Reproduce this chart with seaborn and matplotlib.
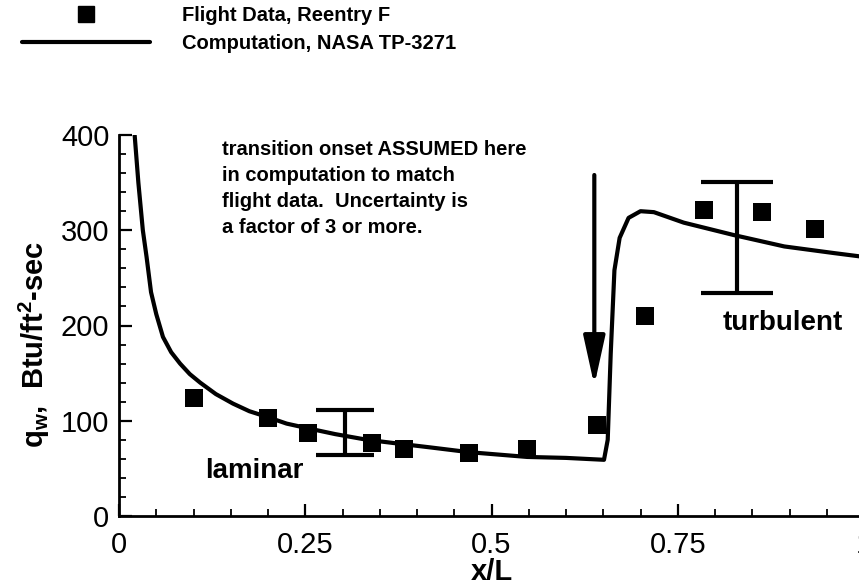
import numpy as np
import pandas as pd
import matplotlib
matplotlib.use("Agg")
import matplotlib.pyplot as plt
from matplotlib.lines import Line2D
from matplotlib.legend_handler import HandlerLine2D
from matplotlib.ticker import MultipleLocator
import seaborn as sns

# Flight data, Reentry F
flight_x = [0.100, 0.200, 0.254, 0.339, 0.383, 0.470, 0.548, 0.641, 0.706, 0.785, 0.863, 0.934]
flight_q = [124, 103, 87, 77, 70, 66, 70, 96, 210, 321, 319, 301]

# Computation, NASA TP-3271
comp_x = [0.021, 0.026, 0.032, 0.037, 0.043, 0.050, 0.059, 0.070, 0.082, 0.095,
          0.109, 0.130, 0.153, 0.175, 0.199, 0.225, 0.254, 0.290, 0.333, 0.375,
          0.418, 0.470, 0.548, 0.600, 0.651, 0.656, 0.660, 0.665, 0.672, 0.684,
          0.700, 0.718, 0.758, 0.825, 0.893, 0.960, 1.000]
comp_q = [400, 350, 300, 272, 235, 212, 188, 172, 160, 149,
          140, 128, 118, 110, 104, 97, 92, 86, 80, 76,
          72, 67, 62, 61, 59, 80, 170, 258, 292, 313,
          320, 319, 308, 295, 283, 276, 272]

# Uncertainty bands
unc_x = [0.304, 0.829]
unc_lo = [64, 234]
unc_hi = [111, 351]
unc_cap = [21, 26]

# Transition onset arrow (x, start, tip)
arrow_x = 0.638
arrow_from = 358
arrow_to = 137

x_ticks = [0, 0.25, 0.5, 0.75, 1]
x_ticklabels = ["0", "0.25", "0.5", "0.75", "1"]
y_ticks = [0, 100, 200, 300, 400]

sns.set_style("white")
plt.rcParams["font.family"] = ["Liberation Sans", "DejaVu Sans"]
plt.rcParams["mathtext.fontset"] = "custom"
plt.rcParams["mathtext.rm"] = "Liberation Sans"
plt.rcParams["mathtext.bf"] = "Liberation Sans:bold"
for key in ["text.color", "axes.labelcolor", "xtick.color", "ytick.color"]:
    plt.rcParams[key] = "black"

fig = plt.figure(figsize=(8.59, 5.86), dpi=100)
ax = fig.add_axes([119 / 859, 1 - 516 / 586, (864 - 119) / 859, (516 - 135) / 586])

flight = pd.DataFrame({"x": flight_x, "q": flight_q})
comp = pd.DataFrame({"x": comp_x, "q": comp_q})

sns.lineplot(data=comp, x="x", y="q", ax=ax, color="black", linewidth=3,
             sort=False, estimator=None)
sns.scatterplot(data=flight, x="x", y="q", ax=ax, marker="s", s=150,
                color="black", linewidth=0, zorder=4)

for xv, lo, hi, cap in zip(unc_x, unc_lo, unc_hi, unc_cap):
    mid = (lo + hi) / 2
    ax.errorbar([xv], [mid], yerr=[[mid - lo], [hi - mid]], fmt="none",
                ecolor="black", elinewidth=3, capsize=cap, capthick=3)

ax.annotate("", xy=(arrow_x, arrow_to), xytext=(arrow_x, arrow_from),
            arrowprops=dict(arrowstyle="-|>,head_length=1.5,head_width=0.33",
                            mutation_scale=20, lw=3, color="black",
                            shrinkA=0, shrinkB=0))

ax.text(0.138, 395, "transition onset ASSUMED here\nin computation to match\n"
        "flight data.  Uncertainty is\na factor of 3 or more.",
        fontsize=14.5, fontweight="bold", ha="left", va="top", linespacing=1.47)
ax.text(0.182, 47, "laminar", fontsize=20, fontweight="bold", ha="center", va="center")
ax.text(0.891, 203, "turbulent", fontsize=20, fontweight="bold", ha="center", va="center")

ax.set_xlim(0, 1)
ax.set_ylim(0, 400)
ax.set_xticks(x_ticks)
ax.set_xticklabels(x_ticklabels)
ax.set_yticks(y_ticks)
ax.xaxis.set_minor_locator(MultipleLocator(0.05))
ax.yaxis.set_minor_locator(MultipleLocator(20))
ax.tick_params(which="both", direction="in", colors="black", labelsize=21)
ax.tick_params(which="major", length=9, width=1.6, pad=7)
ax.tick_params(which="minor", length=5, width=1.3)
ax.tick_params(axis="x", which="major", pad=11)
ax.tick_params(axis="x", which="both", bottom=True)
ax.tick_params(axis="y", which="both", left=True)

for side in ["top", "right"]:
    ax.spines[side].set_visible(False)
for side in ["left", "bottom"]:
    ax.spines[side].set_linewidth(2)
    ax.spines[side].set_color("black")

ax.set_xlabel("x/L", fontsize=21, fontweight="bold", labelpad=-1)
ax.set_ylabel(r"q$_\mathbf{w}$,  Btu/ft$^\mathbf{2}$-sec", fontsize=21, fontweight="bold")
ax.yaxis.set_label_coords(-0.09, 0.45)


class MarkerAtRight(HandlerLine2D):
    def get_xdata(self, legend, xdescent, ydescent, width, height, fontsize):
        xdata, _ = super().get_xdata(legend, xdescent, ydescent, width, height, fontsize)
        return xdata, np.array([-xdescent + 0.84 * width])


h_flight = Line2D([], [], marker="s", linestyle="none", color="black", markersize=12)
h_comp = Line2D([], [], color="black", linewidth=3)
leg = ax.legend([h_flight, h_comp], ["Flight Data, Reentry F", "Computation, NASA TP-3271"],
                handler_map={h_flight: MarkerAtRight(numpoints=1)},
                loc="upper left", bbox_to_anchor=(22 / 859, 1 - 6 / 586),
                bbox_transform=fig.transFigure, frameon=False, borderpad=0,
                borderaxespad=0, handlelength=6.35, handletextpad=1.6,
                labelspacing=0.45, prop={"size": 14.5, "weight": "bold"})

fig.savefig("out.png", dpi=100)
